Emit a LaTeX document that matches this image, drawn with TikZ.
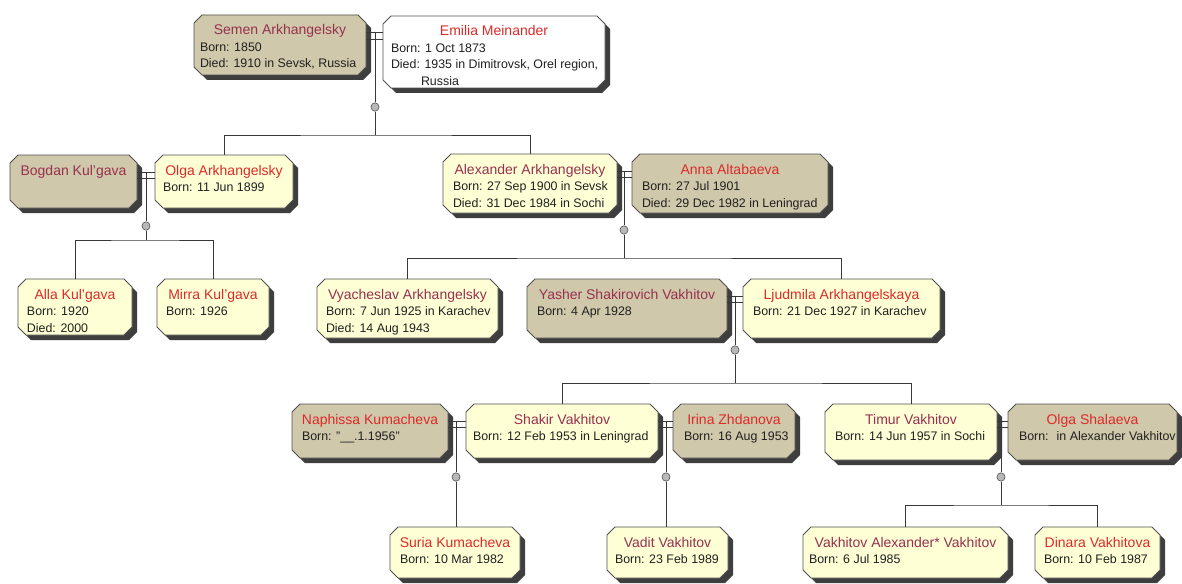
\documentclass[tikz,border=0pt]{standalone}
\usepackage{fontspec}
\setmainfont{Liberation Sans}
\usetikzlibrary{shapes.geometric}
\definecolor{tanc}{HTML}{CFC8AA}
\definecolor{creamc}{HTML}{FFFFD6}
\definecolor{shadowc}{HTML}{3E3E3E}
\definecolor{borderc}{HTML}{505050}
\definecolor{malec}{HTML}{98304F}
\definecolor{femalec}{HTML}{DC2A2A}
\definecolor{textc}{HTML}{202020}
\definecolor{linec}{HTML}{383838}
\definecolor{dotc}{HTML}{B8B8B8}
\tikzset{
  boxshadow/.style={fill=shadowc},
  boxborder/.style={draw=borderc, line width=0.8pt},
  personnode/.style={inner sep=0pt, outer sep=0pt, text=textc},
  conn/.style={draw=linec, line width=0.9pt},
  marriage/.style={ellipse, draw=borderc, fill=dotc, line width=0.6pt,
    minimum width=8pt, minimum height=8.5pt, inner sep=0pt},
}
\newcommand\mnm[1]{\textcolor{malec}{#1}}
\newcommand\fnm[1]{\textcolor{femalec}{#1}}
% #1 node, #2 x1, #3 y1, #4 x2, #5 y2, #6 fill, #7 left pad, #8 name, #9 details
\newcommand\person[9]{%
  \fill[boxshadow] ({#2+13},{#3+5}) -- ({#4-3},{#3+5}) -- ({#4+5},{#3+13})
    -- ({#4+5},{#5-3}) -- ({#4-3},{#5+5}) -- ({#2+13},{#5+5}) -- ({#2+5},{#5-3})
    -- ({#2+5},{#3+13}) -- cycle;
  \draw[boxborder, fill=#6] ({#2+8},#3) -- ({#4-8},#3) -- (#4,{#3+8})
    -- (#4,{#5-8}) -- ({#4-8},#5) -- ({#2+8},#5) -- (#2,{#5-8})
    -- (#2,{#3+8}) -- cycle;
  \node[personnode, anchor=north west] (#1) at (#2,#3)
   {\parbox[t][\dimexpr#5pt-#3pt\relax][t]{\dimexpr#4pt-#2pt\relax}{%
     \lineskiplimit=-100pt
     \fontsize{14}{16.5}\selectfont\centering
     \leftskip=-30pt plus 1fil\rightskip=-30pt plus 1fil
     \rule{0pt}{20pt}#8\par
     \fontsize{12.4}{16.5}\selectfont\raggedright
     \leftskip=#7pt\rightskip=-30pt plus 1fil #9\par}};%
}
\begin{document}
\begin{tikzpicture}[x=1pt, y=-1pt]
\fill[white] (0,0) rectangle (1182,583);
\useasboundingbox (0,0) rectangle (1182,583);

% generation 1
\person{semen}{194}{15}{366}{75}{tanc}{6}{\mnm{Semen Arkhangelsky}}{Born: 1850\\Died: 1910 in Sevsk, Russia}
\person{emilia}{383}{16}{605}{88}{white}{8}{\fnm{Emilia Meinander}}{Born: 1 Oct 1873\\Died: 1935 in Dimitrovsk, Orel region,\\\hspace*{30pt}Russia}

% generation 2
\person{bogdan}{10}{155}{137}{208}{tanc}{9}{\mnm{Bogdan Kul’gava}}{}
\person{olgaA}{155}{155}{293}{208}{creamc}{8}{\fnm{Olga Arkhangelsky}}{Born: 11 Jun 1899}
\person{alex}{443}{154}{617}{213}{creamc}{10}{\mnm{Alexander Arkhangelsky}}{Born: 27 Sep 1900 in Sevsk\\Died: 31 Dec 1984 in Sochi}
\person{anna}{632}{154}{828}{213}{tanc}{10}{\fnm{Anna Altabaeva}}{Born: 27 Jul 1901\\Died: 29 Dec 1982 in Leningrad}

% generation 3
\person{alla}{18}{279}{132}{335}{creamc}{9}{\fnm{Alla Kul’gava}}{Born: 1920\\Died: 2000}
\person{mirra}{157}{279}{269}{335}{creamc}{9}{\fnm{Mirra Kul’gava}}{Born: 1926}
\person{vyach}{317}{279}{498}{338}{creamc}{9}{\mnm{Vyacheslav Arkhangelsky}}{Born: 7 Jun 1925 in Karachev\\Died: 14 Aug 1943}
\person{yasher}{527}{279}{727}{338}{tanc}{10}{\mnm{Yasher Shakirovich Vakhitov}}{Born: 4 Apr 1928}
\person{ljud}{743}{279}{940}{338}{creamc}{10}{\fnm{Ljudmila Arkhangelskaya}}{Born: 21 Dec 1927 in Karachev}

% generation 4
\person{naph}{292}{404}{448}{458}{tanc}{10}{\fnm{Naphissa Kumacheva}}{Born: "\_\_.1.1956"}
\person{shakir}{466}{404}{658}{458}{creamc}{7}{\mnm{Shakir Vakhitov}}{Born: 12 Feb 1953 in Leningrad}
\person{irina}{673}{404}{795}{458}{tanc}{11}{\fnm{Irina Zhdanova}}{Born: 16 Aug 1953}
\person{timur}{825}{404}{997}{460}{creamc}{10}{\mnm{Timur Vakhitov}}{Born: 14 Jun 1957 in Sochi}
\person{olgaS}{1008}{404}{1177}{460}{tanc}{11}{\fnm{Olga Shalaeva}}{Born: \ in Alexander Vakhitov}

% generation 5
\person{suria}{390}{527}{520}{578}{creamc}{10}{\fnm{Suria Kumacheva}}{Born: 10 Mar 1982}
\person{vadit}{607}{527}{728}{578}{creamc}{8}{\mnm{Vadit Vakhitov}}{Born: 23 Feb 1989}
\person{vakhA}{803}{527}{1008}{578}{creamc}{6}{\mnm{Vakhitov Alexander* Vakhitov}}{Born: 6 Jul 1985}
\person{dinara}{1035}{527}{1160}{578}{creamc}{9}{\fnm{Dinara Vakhitova}}{Born: 10 Feb 1987}

% couple 1: Semen + Emilia
\coordinate (k1) at (375,32);
\coordinate (k1b) at (375,39);
\node[marriage] (m1) at (375,107) {};
\coordinate (b1) at (375,135);
\draw[conn] (semen.east |- k1) -- (emilia.west |- k1);
\draw[conn] (semen.east |- k1b) -- (emilia.west |- k1b);
\draw[conn] (k1) -- (m1.north);
\draw[conn] (m1.south) -- (b1);
\draw[conn] (olgaA.north) |- (b1) -| (alex.north);

% couple 2: Bogdan + Olga
\coordinate (k2) at (146,172);
\coordinate (k2b) at (146,178);
\node[marriage] (m2) at (146,226) {};
\coordinate (b2) at (146,240);
\draw[conn] (bogdan.east |- k2) -- (olgaA.west |- k2);
\draw[conn] (bogdan.east |- k2b) -- (olgaA.west |- k2b);
\draw[conn] (k2) -- (m2.north);
\draw[conn] (m2.south) -- (b2);
\draw[conn] (alla.north) |- (b2) -| (mirra.north);

% couple 3: Alexander + Anna
\coordinate (k3) at (624,171);
\coordinate (k3b) at (624,177);
\node[marriage] (m3) at (624,230) {};
\coordinate (b3) at (624,258);
\draw[conn] (alex.east |- k3) -- (anna.west |- k3);
\draw[conn] (alex.east |- k3b) -- (anna.west |- k3b);
\draw[conn] (k3) -- (m3.north);
\draw[conn] (m3.south) -- (b3);
\draw[conn] (vyach.north) |- (b3) -| (ljud.north);

% couple 4: Yasher + Ljudmila
\coordinate (k4) at (735,296);
\coordinate (k4b) at (735,302);
\node[marriage] (m4) at (735,350) {};
\coordinate (b4) at (735,383);
\draw[conn] (yasher.east |- k4) -- (ljud.west |- k4);
\draw[conn] (yasher.east |- k4b) -- (ljud.west |- k4b);
\draw[conn] (k4) -- (m4.north);
\draw[conn] (m4.south) -- (b4);
\draw[conn] (shakir.north) |- (b4) -| (timur.north);

% couple 5: Naphissa + Shakir
\coordinate (k5) at (456,421);
\coordinate (k5b) at (456,427);
\node[marriage] (m5) at (456,477) {};
\draw[conn] (naph.east |- k5) -- (shakir.west |- k5);
\draw[conn] (naph.east |- k5b) -- (shakir.west |- k5b);
\draw[conn] (k5) -- (m5.north);
\draw[conn] (m5.south) -- (m5.south |- suria.north);

% couple 6: Shakir + Irina
\coordinate (k6) at (666,421);
\coordinate (k6b) at (666,427);
\node[marriage] (m6) at (666,477) {};
\draw[conn] (shakir.east |- k6) -- (irina.west |- k6);
\draw[conn] (shakir.east |- k6b) -- (irina.west |- k6b);
\draw[conn] (k6) -- (m6.north);
\draw[conn] (m6.south) -- (m6.south |- vadit.north);

% couple 7: Timur + Olga
\coordinate (k7) at (1001,421);
\coordinate (k7b) at (1001,427);
\node[marriage] (m7) at (1001,477) {};
\coordinate (b5) at (1001,505);
\draw[conn] (timur.east |- k7) -- (olgaS.west |- k7);
\draw[conn] (timur.east |- k7b) -- (olgaS.west |- k7b);
\draw[conn] (k7) -- (m7.north);
\draw[conn] (m7.south) -- (b5);
\draw[conn] (vakhA.north) |- (b5) -| (dinara.north);
\end{tikzpicture}
\end{document}
